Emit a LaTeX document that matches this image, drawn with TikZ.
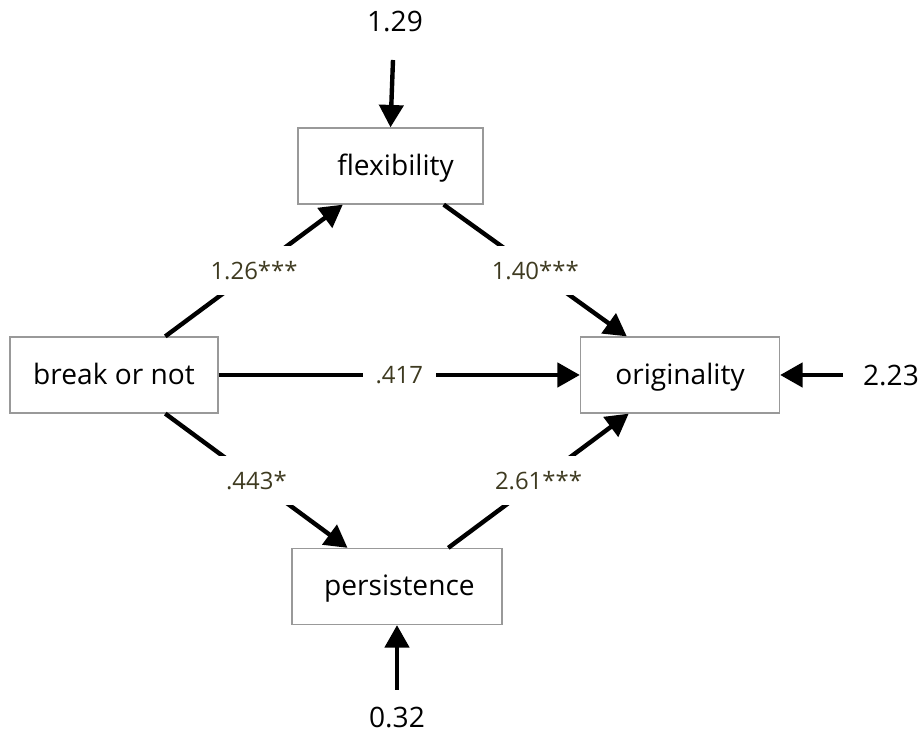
\documentclass[tikz,border=0pt]{standalone}
\usepackage{fontspec}
\setmainfont{Open Sans}
\usepackage{xcolor}
\usetikzlibrary{calc,arrows.meta}

\definecolor{coefcol}{RGB}{62,58,32}

\begin{document}
\begin{tikzpicture}[x=0.025cm,y=0.025cm,>={Triangle[length=0.56cm,width=0.6cm]}]
\tikzset{
  var/.style={draw=gray!80,line width=0.9pt,minimum height=1.9cm,inner sep=0pt,text depth=0.05cm,font=\fontsize{20}{24}\selectfont},
  path/.style={->,line width=0.11cm},
  coef/.style={midway,fill=white,inner xsep=0.32cm,inner ysep=0.38cm,text=coefcol,font=\fontsize{17}{21}\selectfont},
  resid/.style={font=\fontsize{20}{24}\selectfont}
}

\useasboundingbox (0,0) rectangle (923,743);

% Draw variables
\node[var,minimum width=5.2cm] (brk) at (114,368) {break or not};
\node[var,minimum width=4.625cm] (flex) at (390.5,577) {\hspace{0.25cm}flexibility};
\node[var,minimum width=4.975cm] (orig) at (680,368) {originality};
\node[var,minimum width=5.25cm] (pers) at (397,156.5) {\hspace{0.12cm}persistence};

% Draw residuals
\node[resid] (r1) at (395,721) {1.29};
\node[resid] (r2) at (891,367) {2.23};
\node[resid] (r3) at (397,25) {0.32};
\coordinate (e1) at (393,683);
\coordinate (e2) at (843,368);
\coordinate (e3) at (397,53);

\draw[path] (e1) -- (flex.north);
\draw[path] (e2) -- (orig.east);
\draw[path] (e3) -- (pers.south);

% Draw paths
\draw[path] (brk.37) -- (flex.219) node[coef] {1.26***};
\draw[path] (flex.324) -- (orig.144) node[coef] {1.40***};
\draw[path] (brk.east) -- (orig.west) node[coef] {.417};
\draw[path] (brk.323) -- (pers.142) node[coef] {.443*};
\draw[path] (pers.37) -- (orig.217) node[coef] {2.61***};

\end{tikzpicture}
\end{document}
